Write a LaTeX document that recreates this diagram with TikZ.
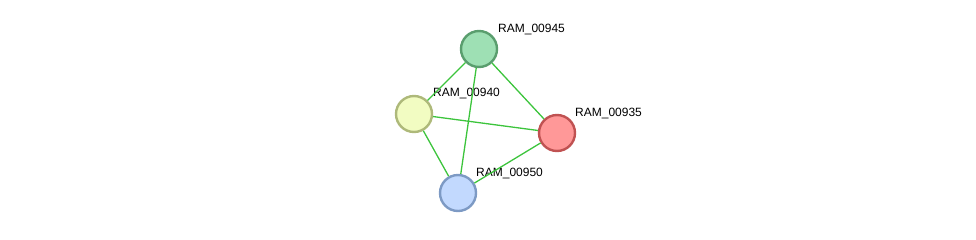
\documentclass[tikz,border=0pt]{standalone}
\usepackage{fontspec}
\setmainfont{Liberation Sans}
\usepackage{tikz}
\usetikzlibrary{positioning}
\definecolor{edgegreen}{HTML}{3CC43C}
\definecolor{fillgreen}{HTML}{9EE0B4}
\definecolor{drawgreen}{HTML}{5A9E6E}
\definecolor{fillyellow}{HTML}{F2FCC2}
\definecolor{drawyellow}{HTML}{AEB97A}
\definecolor{fillred}{HTML}{FF9898}
\definecolor{drawred}{HTML}{C05252}
\definecolor{fillblue}{HTML}{C2D9FE}
\definecolor{drawblue}{HTML}{7D9AC4}

\begin{document}
\begin{tikzpicture}[x=1pt, y=-1pt,
  %--- shared node styles -----------------------------------------
  protein/.style={
    circle, line width=2.4pt, minimum size=36pt, inner sep=0pt
  },
  tag/.style={
    anchor=west, font=\fontsize{12}{13}\selectfont, inner sep=0pt
  },
  link/.style={line width=1.3pt, color=edgegreen},
]
\useasboundingbox (0,0) rectangle (976,239);

%% --- proteins ---------------------------------------------------
\node[protein, fill=fillgreen, draw=drawgreen]   (p945) at (479, 49)  {};
\node[protein, fill=fillyellow, draw=drawyellow] (p940) at (414, 114) {};
\node[protein, fill=fillred, draw=drawred]       (p935) at (557, 133) {};
\node[protein, fill=fillblue, draw=drawblue]     (p950) at (458, 193) {};

%% --- labels -----------------------------------------------------
\node[tag] (l945) at (498, 29)  {RAM\_00945};
\node[tag] (l940) at (433, 93)  {RAM\_00940};
\node[tag] (l935) at (575, 113) {RAM\_00935};
\node[tag] (l950) at (476, 173) {RAM\_00950};

%% --- links ------------------------------------------------------
\draw[link] (p945) -- (p940);
\draw[link] (p945) -- (p935);
\draw[link] (p945) -- (p950);
\draw[link] (p940) -- (p935);
\draw[link] (p940) -- (p950);
\draw[link] (p935) -- (p950);

\end{tikzpicture}
\end{document}
